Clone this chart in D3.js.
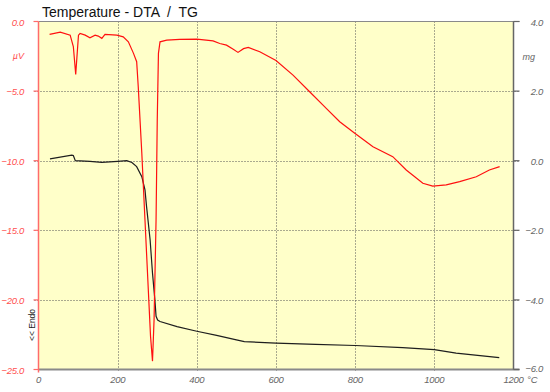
<!DOCTYPE html>
<html>
<head>
<meta charset="utf-8">
<script src="https://cdn.jsdelivr.net/npm/d3@7"></script>
<style>
  html, body { margin: 0; padding: 0; background: #fff; }
  svg { display: block; }
  text { font-family: "Liberation Sans", Arial, sans-serif; white-space: pre; }
</style>
</head>
<body>
<div id="chart"></div>
<script>
// DTA curve (uV) against temperature (C)
var dtaTemp = [28, 55, 80, 88, 94, 101, 105, 118, 130, 143, 151, 160, 168, 198, 214, 227, 240, 248, 252, 261, 269, 277, 283, 288, 292, 297, 300, 303, 307, 324, 357, 400, 441, 458, 475, 492, 504, 518, 530, 559, 600, 643, 685, 727, 761, 799, 845, 895, 929, 971, 996, 1030, 1064, 1106, 1139, 1165];
var dtaValue = [-0.93, -0.76, -0.98, -1.8, -3.8, -0.98, -0.86, -0.98, -1.17, -0.98, -1.05, -1.21, -0.93, -0.98, -1.1, -1.46, -2.29, -2.89, -4.69, -9.47, -14.26, -19.04, -22.6, -24.4, -21.4, -14.25, -7.07, -2.29, -1.46, -1.34, -1.29, -1.27, -1.39, -1.58, -1.7, -2.0, -2.22, -1.95, -1.86, -2.17, -2.8, -3.85, -5.05, -6.24, -7.2, -8.03, -9.0, -9.71, -10.67, -11.62, -11.82, -11.74, -11.5, -11.15, -10.67, -10.43];

// TG curve (mg) against temperature (C)
var tgTemp = [29, 84, 88, 93, 130, 160, 200, 223, 236, 248, 261, 269, 273, 282, 288, 294, 297, 301, 307, 350, 400, 450, 500, 520, 600, 700, 800, 920, 1000, 1055, 1164];
var tgValue = [0.05, 0.16, 0.15, 0.0, -0.02, -0.05, -0.02, 0.0, -0.05, -0.17, -0.46, -0.84, -1.32, -2.28, -3.23, -4.0, -4.47, -4.58, -4.62, -4.77, -4.9, -5.02, -5.15, -5.2, -5.24, -5.28, -5.31, -5.37, -5.43, -5.53, -5.66];

var xTicks = [0, 200, 400, 600, 800, 1000, 1200];
var leftTicks = [0, -5, -10, -15, -20, -25];
var rightTicks = [4, 2, 0, -2, -4, -6];

var width = 550, height = 392;
var margin = {top: 21.5, right: 36.5, bottom: 22.5, left: 38.5};

var svg = d3.select('#chart').append('svg')
	.attr('width', width)
	.attr('height', height);

var x = d3.scaleLinear().domain([0, 1200]).range([margin.left, width - margin.right]);
var yL = d3.scaleLinear().domain([-25, 0]).range([height - margin.bottom, margin.top]);
var yR = d3.scaleLinear().domain([-6, 4]).range([height - margin.bottom, margin.top]);

// plot background
svg.append('rect')
	.attr('x', margin.left)
	.attr('y', margin.top)
	.attr('width', x(1200) - x(0))
	.attr('height', yL(-25) - yL(0))
	.attr('fill', '#ffffc9');

// dotted grid
var grid = svg.append('g').attr('class', 'grid');
grid.selectAll('line.vx')
	.data(xTicks.slice(1, -1))
	.enter().append('line')
		.attr('x1', function(d){ return Math.round(x(d)) + 0.5; })
		.attr('x2', function(d){ return Math.round(x(d)) + 0.5; })
		.attr('y1', yL(0))
		.attr('y2', yL(-25) + 3)
		.attr('stroke', '#555')
		.attr('stroke-dasharray', '1,2');
grid.selectAll('line.hy')
	.data(leftTicks.slice(1, -1))
	.enter().append('line')
		.attr('x1', x(0) - 4)
		.attr('x2', x(1200) + 6)
		.attr('y1', function(d){ return Math.round(yL(d)) + 0.5; })
		.attr('y2', function(d){ return Math.round(yL(d)) + 0.5; })
		.attr('stroke', '#555')
		.attr('stroke-dasharray', '1,2');

// frame
svg.append('line')
	.attr('x1', x(0)).attr('x2', x(1200) + 6)
	.attr('y1', yL(0)).attr('y2', yL(0))
	.attr('stroke', '#8a8a8a').attr('stroke-width', 1.2);
svg.append('line')
	.attr('x1', x(0)).attr('x2', x(1200) + 6)
	.attr('y1', yL(-25)).attr('y2', yL(-25))
	.attr('stroke', '#8a8a8a').attr('stroke-width', 2);
svg.append('line')
	.attr('x1', x(1200)).attr('x2', x(1200))
	.attr('y1', yL(0)).attr('y2', yL(-25))
	.attr('stroke', '#666').attr('stroke-width', 1.5);
svg.append('line')
	.attr('x1', x(0)).attr('x2', x(0))
	.attr('y1', yL(0)).attr('y2', yL(-25) + 3)
	.attr('stroke', '#ff6b6b').attr('stroke-width', 1.5);

// left ticks and labels
svg.selectAll('line.lt')
	.data(leftTicks)
	.enter().append('line')
		.attr('x1', x(0) - 5).attr('x2', x(0))
		.attr('y1', function(d){ return yL(d); })
		.attr('y2', function(d){ return yL(d); })
		.attr('stroke', '#ff6b6b').attr('stroke-width', 1.2);
svg.selectAll('text.ll')
	.data(leftTicks)
	.enter().append('text')
		.attr('x', 24)
		.attr('y', function(d){ return yL(d) + 4; })
		.attr('text-anchor', 'end')
		.attr('font-size', '9.5px')
		.attr('font-style', 'italic')
		.attr('letter-spacing', '-0.3px')
		.attr('fill', '#ff5050')
		.text(function(d){ return d3.format('.1f')(d); });
svg.append('text')
	.attr('x', 24).attr('y', 59)
	.attr('text-anchor', 'end')
	.attr('font-size', '9px')
	.attr('font-style', 'italic')
	.attr('fill', '#ff5050')
	.text('µV');

// right ticks and labels
svg.selectAll('line.rt')
	.data(rightTicks)
	.enter().append('line')
		.attr('x1', x(1200)).attr('x2', x(1200) + 6)
		.attr('y1', function(d){ return yR(d); })
		.attr('y2', function(d){ return yR(d); })
		.attr('stroke', '#666').attr('stroke-width', 1.2);
svg.selectAll('text.rl')
	.data(rightTicks)
	.enter().append('text')
		.attr('x', 543)
		.attr('y', function(d){ return yR(d) + (d === -6 ? 2 : 4); })
		.attr('text-anchor', 'end')
		.attr('font-size', '9.5px')
		.attr('font-style', 'italic')
		.attr('letter-spacing', '-0.3px')
		.attr('fill', '#666')
		.text(function(d){ return d3.format('.1f')(d); });
svg.append('text')
	.attr('x', 535).attr('y', 60)
	.attr('text-anchor', 'end')
	.attr('font-size', '9px')
	.attr('font-style', 'italic')
	.attr('fill', '#666')
	.text('mg');

// bottom labels
svg.selectAll('text.xl')
	.data(xTicks)
	.enter().append('text')
		.attr('x', function(d){ return x(d); })
		.attr('y', 383)
		.attr('text-anchor', 'middle')
		.attr('font-size', '9.5px')
		.attr('font-style', 'italic')
		.attr('letter-spacing', '-0.3px')
		.attr('fill', '#666')
		.text(function(d){ return d; });
svg.append('text')
	.attr('x', 527).attr('y', 383)
	.attr('font-size', '9.5px')
	.attr('font-style', 'italic')
	.attr('fill', '#666')
	.text('°C');

// title
svg.append('text')
	.attr('x', 42).attr('y', 17)
	.attr('font-size', '14px')
	.attr('fill', '#111')
	.text('Temperature - DTA  /  TG');

// endo marker
svg.append('text')
	.attr('transform', 'translate(35,325) rotate(-90)')
	.attr('text-anchor', 'middle')
	.attr('font-size', '8.5px')
	.attr('font-family', '"Liberation Serif", serif')
	.attr('fill', '#222')
	.text('<< Endo');

// curves
var tgLine = d3.line()
	.x(function(d){ return x(d[0]); })
	.y(function(d){ return yR(d[1]); });
var dtaLine = d3.line()
	.x(function(d){ return x(d[0]); })
	.y(function(d){ return yL(d[1]); });

svg.append('path')
	.datum(d3.zip(tgTemp, tgValue))
	.attr('d', tgLine)
	.attr('fill', 'none')
	.attr('stroke', '#1e1e1e')
	.attr('stroke-width', 1.2);

svg.append('path')
	.datum(d3.zip(dtaTemp, dtaValue))
	.attr('d', dtaLine)
	.attr('fill', 'none')
	.attr('stroke', '#ff1010')
	.attr('stroke-width', 1.2);
</script>
</body>
</html>
